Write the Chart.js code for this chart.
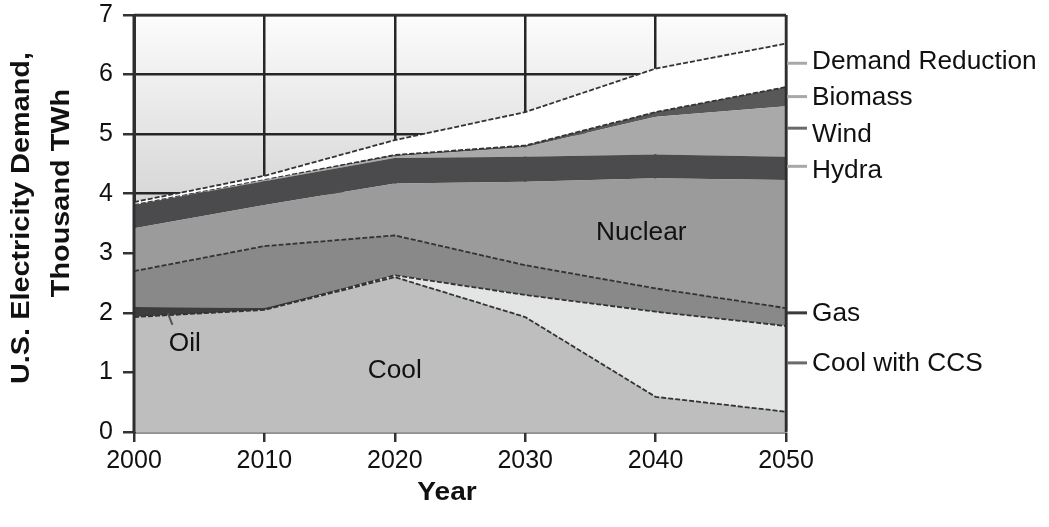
<!DOCTYPE html>
<html>
<head>
<meta charset="utf-8">
<script src="https://cdn.jsdelivr.net/npm/chart.js@4.4.1/dist/chart.umd.min.js"></script>
<style>
  html, body { margin: 0; padding: 0; background: #ffffff; }
  #wrap { width: 1049px; height: 527px; position: relative; }
</style>
</head>
<body>
<div id="wrap"><canvas id="c"></canvas></div>
<script>
// ---- data (thousand TWh, per layer, stacked bottom to top) ----
const years = ['2000', '2010', '2020', '2030', '2040', '2050'];
const coal            = [1.93, 2.05, 2.60, 1.93, 0.59, 0.34];
const coalCCS         = [0.00, 0.00, 0.03, 0.37, 1.43, 1.44];
const oil             = [0.17, 0.03, 0.00, 0.00, 0.00, 0.00];
const gas             = [0.60, 1.04, 0.67, 0.50, 0.39, 0.30];
const nuclear         = [0.72, 0.69, 0.87, 1.40, 1.85, 2.15];
const hydro           = [0.39, 0.40, 0.43, 0.42, 0.40, 0.39];
const wind            = [0.00, 0.02, 0.03, 0.16, 0.63, 0.85];
const biomass         = [0.00, 0.00, 0.02, 0.03, 0.08, 0.32];
const demandReduction = [0.05, 0.07, 0.25, 0.56, 0.73, 0.73];
const yTicks = [0, 1, 2, 3, 4, 5, 6, 7];

// series labels at the right edge (text, label value, leader value)
const rightLabels = [
  ['Demand Reduction', 6.21, 6.19, '#a8a8a8'],
  ['Biomass',          5.61, 5.63, '#a8a8a8'],
  ['Wind',             4.99, 5.10, '#6a6a6a'],
  ['Hydra',            4.38, 4.46, '#a8a8a8'],
  ['Gas',              1.98, 2.00, '#3a3a3a'],
  ['Cool with CCS',    1.14, 1.16, '#6a6a6a']
];
// labels inside the areas (text, year, value)
const innerLabels = [
  ['Nuclear', 2038.9, 3.34],
  ['Oil',     2003.9, 1.48],
  ['Cool',    2020.0, 1.02]
];

const FONT = '"Liberation Sans", Arial, Helvetica, sans-serif';
const LINE = '#333333';

function ds(label, data, color, opts) {
  return Object.assign({
    label, data,
    backgroundColor: color,
    borderColor: LINE,
    borderWidth: 0,
    pointRadius: 0,
    pointHoverRadius: 0,
    tension: 0,
    fill: '-1'
  }, opts || {});
}
const dashed = { borderWidth: 1.8, borderDash: [5, 2] };

const bgPlugin = {
  id: 'bg',
  beforeDraw(chart) {
    const { ctx, chartArea: a } = chart;
    const g = ctx.createLinearGradient(0, a.top, 0, a.bottom);
    g.addColorStop(0, '#fcfcfc');
    g.addColorStop(0.45, '#d6d6d6');
    g.addColorStop(1, '#c2c2c2');
    ctx.save();
    ctx.fillStyle = g;
    ctx.fillRect(a.left, a.top, a.right - a.left, a.bottom - a.top);
    ctx.restore();
  }
};

function stretchedText(ctx, text, x, y, angle, sx) {
  ctx.save();
  ctx.translate(x, y);
  ctx.rotate(angle);
  ctx.scale(sx, 1);
  ctx.fillText(text, 0, 0);
  ctx.restore();
}

const decoPlugin = {
  id: 'deco',
  afterDraw(chart) {
    const { ctx, chartArea: a, scales } = chart;
    const xs = scales.x, ys = scales.y;
    const xPix = yr => xs.getPixelForValue((yr - 2000) / 10);
    ctx.save();
    // top and right frame
    ctx.strokeStyle = '#2e2e2e';
    ctx.lineWidth = 2.5;
    ctx.beginPath();
    ctx.moveTo(a.left, a.top);
    ctx.lineTo(a.right, a.top);
    ctx.moveTo(a.right, a.top);
    ctx.lineTo(a.right, a.bottom);
    ctx.stroke();
    // left frame
    ctx.lineWidth = 3;
    ctx.beginPath();
    ctx.moveTo(a.left, a.top);
    ctx.lineTo(a.left, a.bottom + 1);
    ctx.stroke();

    // right labels
    ctx.font = '25px ' + FONT;
    ctx.fillStyle = '#111';
    ctx.textBaseline = 'middle';
    ctx.textAlign = 'left';
    rightLabels.forEach(([t, v, lv, c]) => {
      const ly = ys.getPixelForValue(lv);
      ctx.strokeStyle = c;
      ctx.lineWidth = 3;
      ctx.beginPath();
      ctx.moveTo(a.right + 1, ly);
      ctx.lineTo(a.right + 21, ly);
      ctx.stroke();
      stretchedText(ctx, t, a.right + 26, ys.getPixelForValue(v), 0, 1.05);
    });

    // inner labels
    ctx.textAlign = 'center';
    innerLabels.forEach(([t, yr, v]) => {
      stretchedText(ctx, t, xPix(yr), ys.getPixelForValue(v), 0, 1.05);
    });
    // oil leader
    ctx.strokeStyle = '#555';
    ctx.lineWidth = 2;
    ctx.beginPath();
    ctx.moveTo(xPix(2002.6), ys.getPixelForValue(1.99));
    ctx.lineTo(xPix(2002.95), ys.getPixelForValue(1.80));
    ctx.stroke();

    // axis titles
    ctx.font = 'bold 26px ' + FONT;
    ctx.fillStyle = '#111';
    ctx.textAlign = 'center';
    stretchedText(ctx, 'Year', 447, 493, 0, 1.08);
    stretchedText(ctx, 'U.S. Electricity Demand,', 22, 218, -Math.PI / 2, 1.11);
    stretchedText(ctx, 'Thousand TWh', 62, 193, -Math.PI / 2, 1.11);
    ctx.restore();
  }
};

new Chart(document.getElementById('c'), {
  type: 'line',
  data: {
    labels: years,
    datasets: [
      ds('Cool', coal, '#bebebe', Object.assign({ fill: 'origin' }, dashed)),
      ds('Cool with CCS', coalCCS, '#e3e4e4', dashed),
      ds('Oil', oil, '#3c3c3c'),
      ds('Gas', gas, '#898989', dashed),
      ds('Nuclear', nuclear, '#9b9b9b'),
      ds('Hydra', hydro, '#4b4b4d'),
      ds('Wind', wind, '#a9a9a9'),
      ds('Biomass', biomass, '#585858', dashed),
      ds('Demand Reduction', demandReduction, '#ffffff', dashed)
    ]
  },
  options: {
    responsive: true,
    maintainAspectRatio: false,
    animation: false,
    events: [],
    layout: { padding: { top: 15, right: 263, left: 0, bottom: 0 } },
    plugins: { legend: { display: false }, tooltip: { enabled: false }, title: { display: false } },
    scales: {
      x: {
        type: 'category',
        offset: false,
        afterFit(s) { s.height = 95; s.paddingLeft = 0; s.paddingRight = 0; },
        grid: { color: '#262626', lineWidth: 2.5, tickLength: 10, tickColor: '#333', drawOnChartArea: true },
        border: { display: true, color: '#9a9a9a', width: 2 },
        ticks: { color: '#111', font: { family: FONT, size: 25 }, padding: 4, maxRotation: 0, autoSkip: false }
      },
      y: {
        stacked: true,
        min: 0, max: 7,
        afterFit(s) { s.width = 134; s.paddingTop = 0; s.paddingBottom = 0; },
        afterBuildTicks(s) { s.ticks = yTicks.map(v => ({ value: v })); },
        grid: { color: '#262626', lineWidth: 2.5, tickLength: 11, tickColor: '#333' },
        border: { display: true, color: '#333', width: 3 },
        ticks: { color: '#111', font: { family: FONT, size: 25 }, padding: 10 }
      }
    }
  },
  plugins: [bgPlugin, decoPlugin]
});
</script>
</body>
</html>
